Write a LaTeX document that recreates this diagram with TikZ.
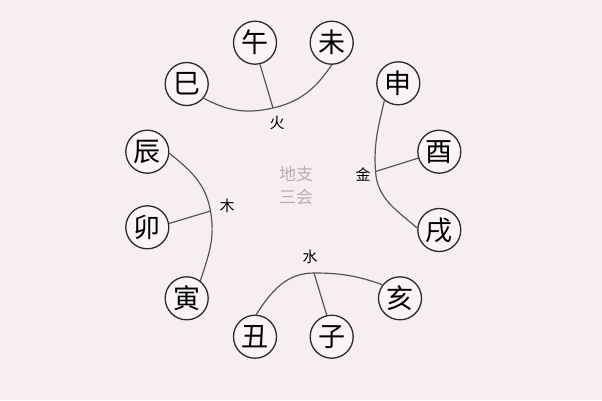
\documentclass[tikz,border=0pt]{standalone}
\usepackage{fontspec}
\newfontfamily\cjk{Noto Sans CJK SC}
\definecolor{bgpink}{HTML}{F7EFEF}
\definecolor{circfill}{HTML}{FAF5F5}
\definecolor{linegray}{HTML}{5A5555}
\definecolor{ringgray}{HTML}{2E2A2A}
\definecolor{centergray}{HTML}{B8B0B0}
\tikzset{
  branch/.style={circle, draw=ringgray, line width=1.3pt, fill=circfill,
    minimum size=43pt, inner sep=0pt, font=\cjk\fontsize{27}{27}\selectfont},
  group/.style={draw=linegray, line width=1.2pt},
  element/.style={font=\cjk\fontsize{15}{15}\selectfont, text=black},
  centre/.style={font=\cjk\fontsize{17}{23}\selectfont, text=centergray, align=center}
}
\begin{document}
\begin{tikzpicture}[x=1pt,y=-1pt]
\fill[bgpink] (0,0) rectangle (602,400);
\useasboundingbox (0,0) rectangle (602,400);

% branches
\node[branch] (si)   at (186.7,84)   {巳};
\node[branch] (wu)   at (255,42.7)   {午};
\node[branch] (wei)  at (331.7,42.7) {未};
\node[branch] (shen) at (398.3,83.3) {申};
\node[branch] (you)  at (439.3,151.7){酉};
\node[branch] (xu)   at (439.3,230)  {戌};
\node[branch] (hai)  at (400,298.3)  {亥};
\node[branch] (zi)   at (331.7,336.7){子};
\node[branch] (chou) at (255,336.7)  {丑};
\node[branch] (yin)  at (186.7,298.3){寅};
\node[branch] (mao)  at (147.3,227.3){卯};
\node[branch] (chen) at (147.3,151.7){辰};

% joints
\coordinate (fire)  at (273,108);
\coordinate (metal) at (375.5,171.5);
\coordinate (water) at (314,273);
\coordinate (wood)  at (210.5,211);

% fire
\draw[group] (si.-40) to[out=-28,in=-167] (fire) to[out=13,in=-124] (wei.-90);
\draw[group] (wu.-77) -- (fire);
% metal
\draw[group] (shen.-129) to[out=-103,in=94] (metal) to[out=-86,in=139] (xu.175);
\draw[group] (you.-163) -- (metal);
% water
\draw[group] (chou.87) to[out=57,in=180] (water) to[out=0,in=161] (hai.142);
\draw[group] (zi.103) -- (water);
% wood
\draw[group] (chen.-4) to[out=-39,in=100] (wood) to[out=-80,in=72] (yin.52);
\draw[group] (mao.10) -- (wood);

% labels
\node[element] (lfire)  at (277,123)   {火};
\node[element] (lmetal) at (363,175)   {金};
\node[element] (lwater) at (310,256.5) {水};
\node[element] (lwood)  at (227,206)   {木};

\node[centre] (title) at (296,186) {地支\\三会};
\end{tikzpicture}
\end{document}
